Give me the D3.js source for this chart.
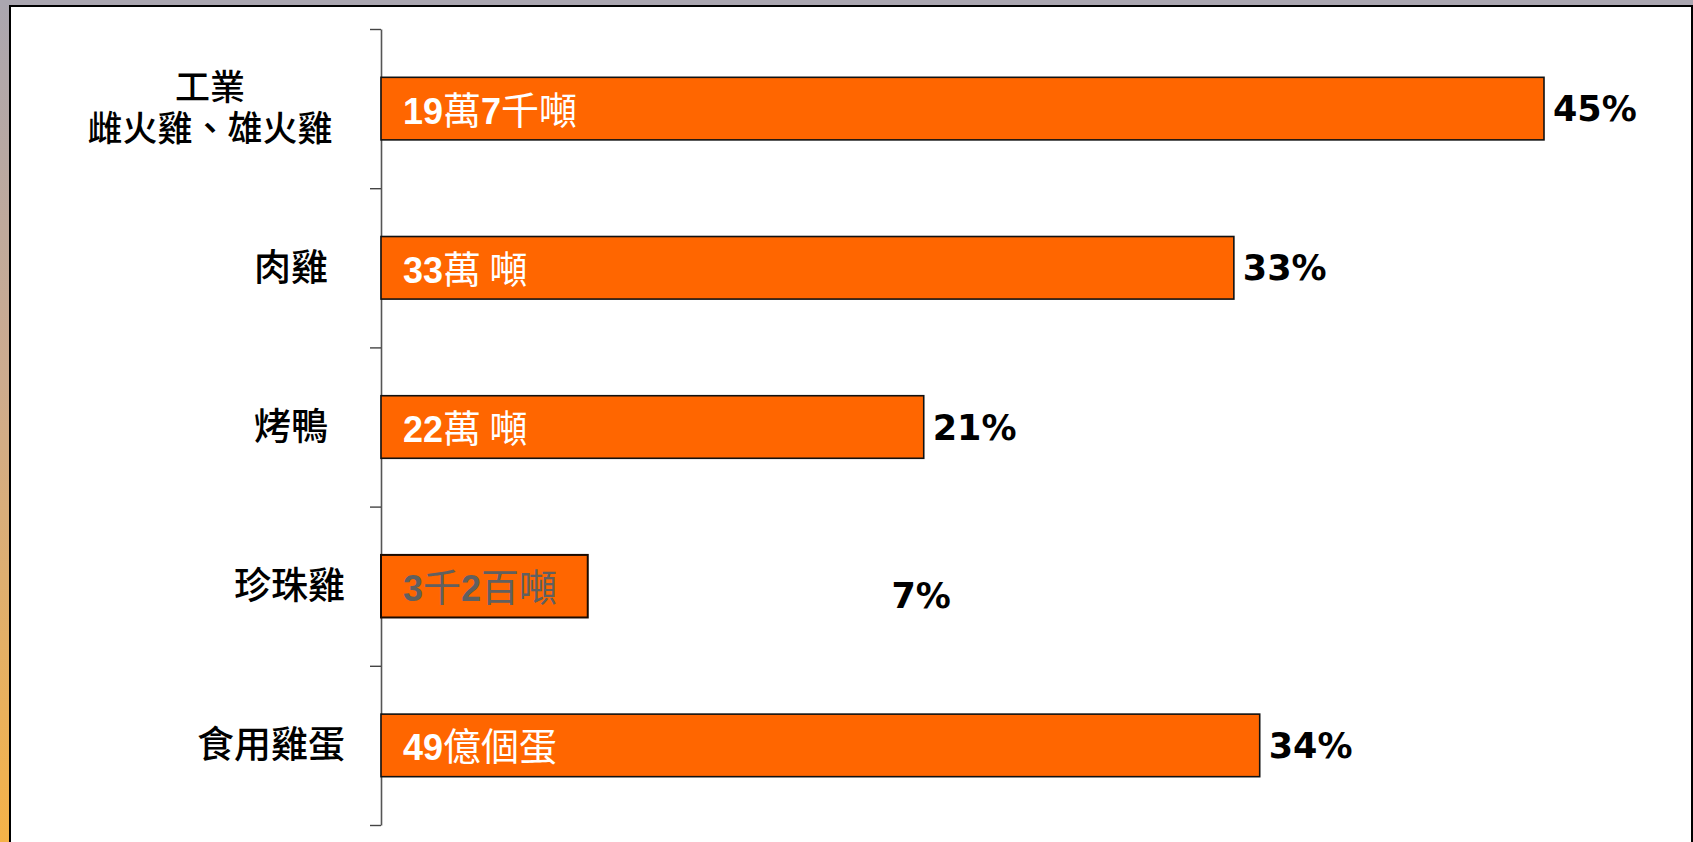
<!DOCTYPE html>
<html>
<head>
<meta charset="utf-8">
<script src="https://cdn.jsdelivr.net/npm/d3@7"></script>
<style>
  html, body { margin: 0; padding: 0; overflow: hidden; background: #fff; }
  text { white-space: pre; }
</style>
</head>
<body>
<div id="chart"></div>
<script>

// categories (top to bottom), one label may span two lines
var categories = ["工業\n雌火雞、雄火雞", "肉雞", "烤鴨", "珍珠雞", "食用雞蛋"];
// bar lengths (percent)
var values = [45, 33, 21, 8, 34];
// the percent labels printed next to the bars
var pctLabels = ["45%", "33%", "21%", "7%", "34%"];
// quantity text printed inside the bars
var barLabels = ["19萬7千噸", "33萬 噸", "22萬 噸", "3千2百噸", "49億個蛋"];

var W = 1693, H = 842;

var svg = d3.select("#chart")
  .append("svg")
  .attr("width", W)
  .attr("height", H);

/****** FRAME ******/
var defs = svg.append("defs");
var grad = defs.append("linearGradient")
  .attr("id", "side")
  .attr("x1", 0).attr("y1", 0).attr("x2", 0).attr("y2", 1);
grad.append("stop").attr("offset", "0%").attr("stop-color", "#aaa6b0");
grad.append("stop").attr("offset", "45%").attr("stop-color", "#cdab8e");
grad.append("stop").attr("offset", "100%").attr("stop-color", "#f5b248");

svg.append("rect")
  .attr("width", W).attr("height", H)
  .attr("fill", "url(#side)");
svg.append("rect")
  .attr("width", W).attr("height", 6)
  .attr("fill", "#aaa6b0");
svg.append("rect")
  .attr("x", 10).attr("y", 6)
  .attr("width", 1682).attr("height", 900)
  .attr("fill", "#fff")
  .attr("stroke", "#000")
  .attr("stroke-width", 2);

/****** SCALES ******/
var yTop = 29, yBottom = 825, x0 = 381;

var x = d3.scaleLinear()
  .domain([0, 45])
  .range([x0, 1544]);

var y = d3.scaleBand()
  .domain(categories)
  .range([yTop, yBottom])
  .paddingInner(0.607)
  .paddingOuter(0.3035);

// edges between categories, used for the axis ticks
var yEdge = d3.scaleLinear()
  .domain([0, categories.length])
  .range([yTop, yBottom]);

var rows = categories.map(function(c, i) {
  return { cat: c, value: values[i], pct: pctLabels[i], label: barLabels[i], i: i };
});

/****** AXIS ******/
var axis = svg.append("g")
  .attr("transform", "translate(" + x0 + ",0)")
  .call(d3.axisLeft(yEdge)
    .ticks(categories.length)
    .tickSizeInner(11)
    .tickSizeOuter(0)
    .tickFormat(""));
axis.select(".domain").attr("stroke", "#555").attr("stroke-width", 1.6);
axis.selectAll(".tick line").attr("stroke", "#444").attr("stroke-width", 1.4);

/****** BARS ******/
svg.append("g")
  .selectAll("rect")
  .data(rows)
  .enter()
  .append("rect")
    .attr("x", x(0))
    .attr("y", function(d) { return y(d.cat); })
    .attr("width", function(d) { return x(d.value) - x(0); })
    .attr("height", y.bandwidth())
    .attr("fill", "#ff6600")
    .attr("stroke", function(d) { return d.i === 3 ? "#1a0a00" : "#111"; })
    .attr("stroke-width", function(d) { return d.i === 3 ? 2 : 1.6; });

var mid = function(d) { return y(d.cat) + y.bandwidth() / 2; };

// text inside the bars: digits bold latin, the rest CJK
var inner = svg.append("g")
  .selectAll("text")
  .data(rows)
  .enter()
  .append("text")
    .attr("x", x(0) + 22)
    .attr("y", function(d) { return mid(d) + 15; })
    .attr("fill", function(d) { return d.i === 3 ? "#606060" : "#fff"; });

inner.each(function(d) {
  var t = d3.select(this);
  d.label.match(/\d+|\D+/g).forEach(function(part) {
    var isNum = /\d/.test(part);
    t.append("tspan")
      .text(part)
      .style("font-family", isNum ? "'Liberation Sans', Arial, sans-serif" : "'Noto Sans CJK TC', sans-serif")
      .style("font-weight", isNum ? "bold" : "normal")
      .style("font-size", isNum ? "36px" : "38px");
  });
});

// percent labels; the 珍珠雞 one sits further right and lower in the original
var pctAt = function(d) { return d.i === 3 ? 19.4 : d.value; };

svg.append("g")
  .selectAll("text")
  .data(rows)
  .enter()
  .append("text")
    .attr("x", function(d) { return x(pctAt(d)) + 9; })
    .attr("y", function(d) { return mid(d) + 12.5 + (d.i === 3 ? 9 : 0); })
    .style("font-family", "'DejaVu Sans', Verdana, sans-serif")
    .style("font-weight", "bold")
    .style("font-size", "35px")
    .attr("fill", "#000")
    .text(function(d) { return d.pct; });

/****** CATEGORY LABELS ******/
var catG = svg.append("g")
  .selectAll("text")
  .data(rows)
  .enter()
  .append("text")
    .style("font-family", "'Noto Sans CJK TC', sans-serif")
    .style("font-weight", 500)
    .attr("fill", "#000");

catG.each(function(d) {
  var t = d3.select(this);
  var lines = d.cat.split("\n");
  if (lines.length > 1) {
    // two lines centered on each other
    t.attr("text-anchor", "middle").style("font-size", "35px");
    lines.forEach(function(l, k) {
      t.append("tspan")
        .attr("x", 210)
        .attr("y", mid(d) + (k - (lines.length - 1) / 2) * 41 + 12)
        .text(l);
    });
  } else {
    var right = (d.i === 1 || d.i === 2) ? 328 : 345;
    t.attr("text-anchor", "end")
      .style("font-size", "37px")
      .attr("x", right)
      .attr("y", mid(d) + 13)
      .text(lines[0]);
  }
});

</script>
</body>
</html>
